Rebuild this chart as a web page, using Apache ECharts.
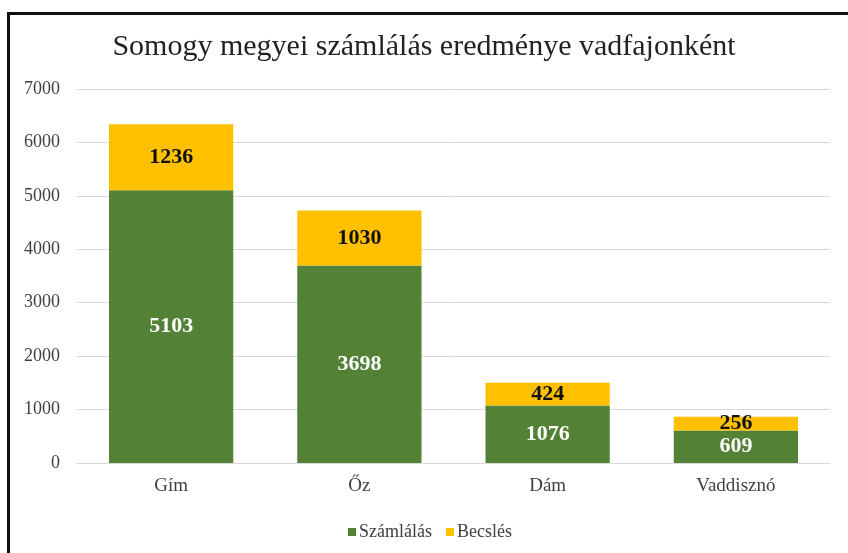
<!DOCTYPE html>
<html><head><meta charset="utf-8">
<script src="https://cdn.jsdelivr.net/npm/echarts@6/dist/echarts.min.js"></script>
<style>html,body{margin:0;padding:0;background:#fff}#c{width:848px;height:553px}</style>
</head><body><div id="c"></div>
<script>
const categories = ['Gím', 'Őz', 'Dám', 'Vaddisznó'];
const szamlalas = [5103, 3698, 1076, 609];
const becsles = [1236, 1030, 424, 256];
const yTicks = [0, 1000, 2000, 3000, 4000, 5000, 6000, 7000];

const FONT = '"Liberation Serif", "DejaVu Serif", serif';
const chart = echarts.init(document.getElementById('c'), null, {renderer: 'canvas'});
chart.setOption({
  backgroundColor: '#fff',
  animation: false,
  textStyle: {fontFamily: FONT},
  graphic: [{
    type: 'rect', left: 6, top: 11, silent: true,
    shape: {width: 900, height: 700},
    style: {fill: 'none', stroke: '#111', lineWidth: 3}
  }],
  title: {
    text: 'Somogy megyei számlálás eredménye vadfajonként',
    left: 'center', top: 27,
    textStyle: {fontFamily: FONT, fontSize: 30, fontWeight: 'normal', color: '#222'}
  },
  legend: {
    top: 518, left: 343,
    itemWidth: 8, itemHeight: 8, itemGap: 14,
    icon: 'rect',
    textStyle: {fontFamily: FONT, fontSize: 18, color: '#404040', padding: [0, 0, 0, -2]},
    data: ['Számlálás', 'Becslés']
  },
  grid: {left: 77, right: 18, top: 89, bottom: 90, containLabel: false},
  xAxis: {
    type: 'category', data: categories,
    axisLine: {show: true, lineStyle: {color: '#d9d9d9'}},
    axisTick: {show: false},
    axisLabel: {fontFamily: FONT, fontSize: 19, color: '#404040', margin: 14}
  },
  yAxis: {
    type: 'value', min: yTicks[0], max: yTicks[yTicks.length - 1], interval: 1000,
    axisLine: {show: false}, axisTick: {show: false},
    axisLabel: {fontFamily: FONT, fontSize: 18, color: '#404040', margin: 17, formatter: v => String(v)},
    splitLine: {lineStyle: {color: '#d9d9d9', width: 1}}
  },
  series: [{
    name: 'Számlálás', type: 'bar', stack: 'a', data: szamlalas,
    barCategoryGap: '34%',
    itemStyle: {color: '#538135'},
    label: {show: true, position: 'inside', fontFamily: FONT, fontSize: 22, fontWeight: 'bold', color: '#fff'}
  }, {
    name: 'Becslés', type: 'bar', stack: 'a', data: becsles,
    itemStyle: {color: '#FFC000'},
    label: {show: true, position: 'inside', fontFamily: FONT, fontSize: 22, fontWeight: 'bold', color: '#111'}
  }]
});
</script></body></html>
